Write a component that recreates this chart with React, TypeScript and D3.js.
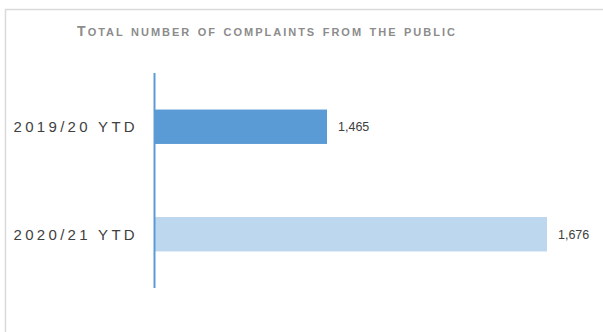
import { useEffect, useRef } from "react"
import * as d3 from "d3"

const categories = ["2019/20 YTD", "2020/21 YTD"]
const values = [1465, 1676]
const barColors = ["#5b9bd5", "#bdd7ee"]
const title = "Total number of complaints from the public"

const App = () => {
  const ref = useRef<SVGSVGElement>(null)

  useEffect(() => {
    const svg = d3.select(ref.current)
    svg.selectAll("*").remove()

    // Chart frame
    svg.append("path")
      .attr("d", "M5.5,340 L5.5,9.5 L620,9.5")
      .attr("fill", "none")
      .attr("stroke", "#d9d9d9")
      .attr("stroke-width", 1.5)

    // Title, small caps drawn as two sizes
    const t = svg.append("text")
      .attr("x", 267)
      .attr("y", 36)
      .attr("text-anchor", "middle")
      .attr("font-family", "Liberation Sans, Arial, sans-serif")
      .attr("font-weight", "bold")
      .attr("letter-spacing", 2)
      .attr("word-spacing", 1.4)
      .attr("fill", "#8c8c8c")
    t.append("tspan").attr("font-size", 14).text(title[0].toUpperCase())
    t.append("tspan").attr("font-size", 11).text(title.slice(1).toUpperCase())

    const x = d3.scaleLinear().domain([1300, 1700]).range([155, 572])
    const y = d3.scaleBand<string>()
      .domain(categories)
      .range([73, 288])
      .paddingInner(0.68)
      .paddingOuter(0.34)

    // Bars
    svg.selectAll("rect.bar")
      .data(values)
      .enter()
      .append("rect")
      .attr("class", "bar")
      .attr("x", x(1300))
      .attr("y", (_, i) => y(categories[i])!)
      .attr("width", d => x(d) - x(1300))
      .attr("height", y.bandwidth())
      .attr("fill", (_, i) => barColors[i])

    // Value labels
    svg.selectAll("text.val")
      .data(values)
      .enter()
      .append("text")
      .attr("class", "val")
      .attr("x", d => x(d) + 11)
      .attr("y", (_, i) => y(categories[i])! + y.bandwidth() / 2)
      .attr("dy", "0.35em")
      .attr("font-family", "Liberation Sans, Arial, sans-serif")
      .attr("font-size", 12.5)
      .attr("fill", "#404040")
      .text(d => d3.format(",")(d))

    // Category labels
    svg.selectAll("text.cat")
      .data(categories)
      .enter()
      .append("text")
      .attr("class", "cat")
      .attr("x", 138)
      .attr("y", d => y(d)! + y.bandwidth() / 2)
      .attr("dy", "0.35em")
      .attr("text-anchor", "end")
      .attr("font-family", "Liberation Sans, Arial, sans-serif")
      .attr("font-size", 15)
      .attr("letter-spacing", 3.3)
      .attr("fill", "#404040")
      .text(d => d)

    // Axis line
    svg.append("line")
      .attr("x1", 154.5)
      .attr("x2", 154.5)
      .attr("y1", 73)
      .attr("y2", 288)
      .attr("stroke", "#5b9bd5")
      .attr("stroke-width", 2)
  }, [])

  return (
    <svg
      ref={ref}
      width={603}
      height={332}
      style={{ position: "absolute", left: 0, top: 0, background: "#fff" }}
    />
  )
}

export default App
